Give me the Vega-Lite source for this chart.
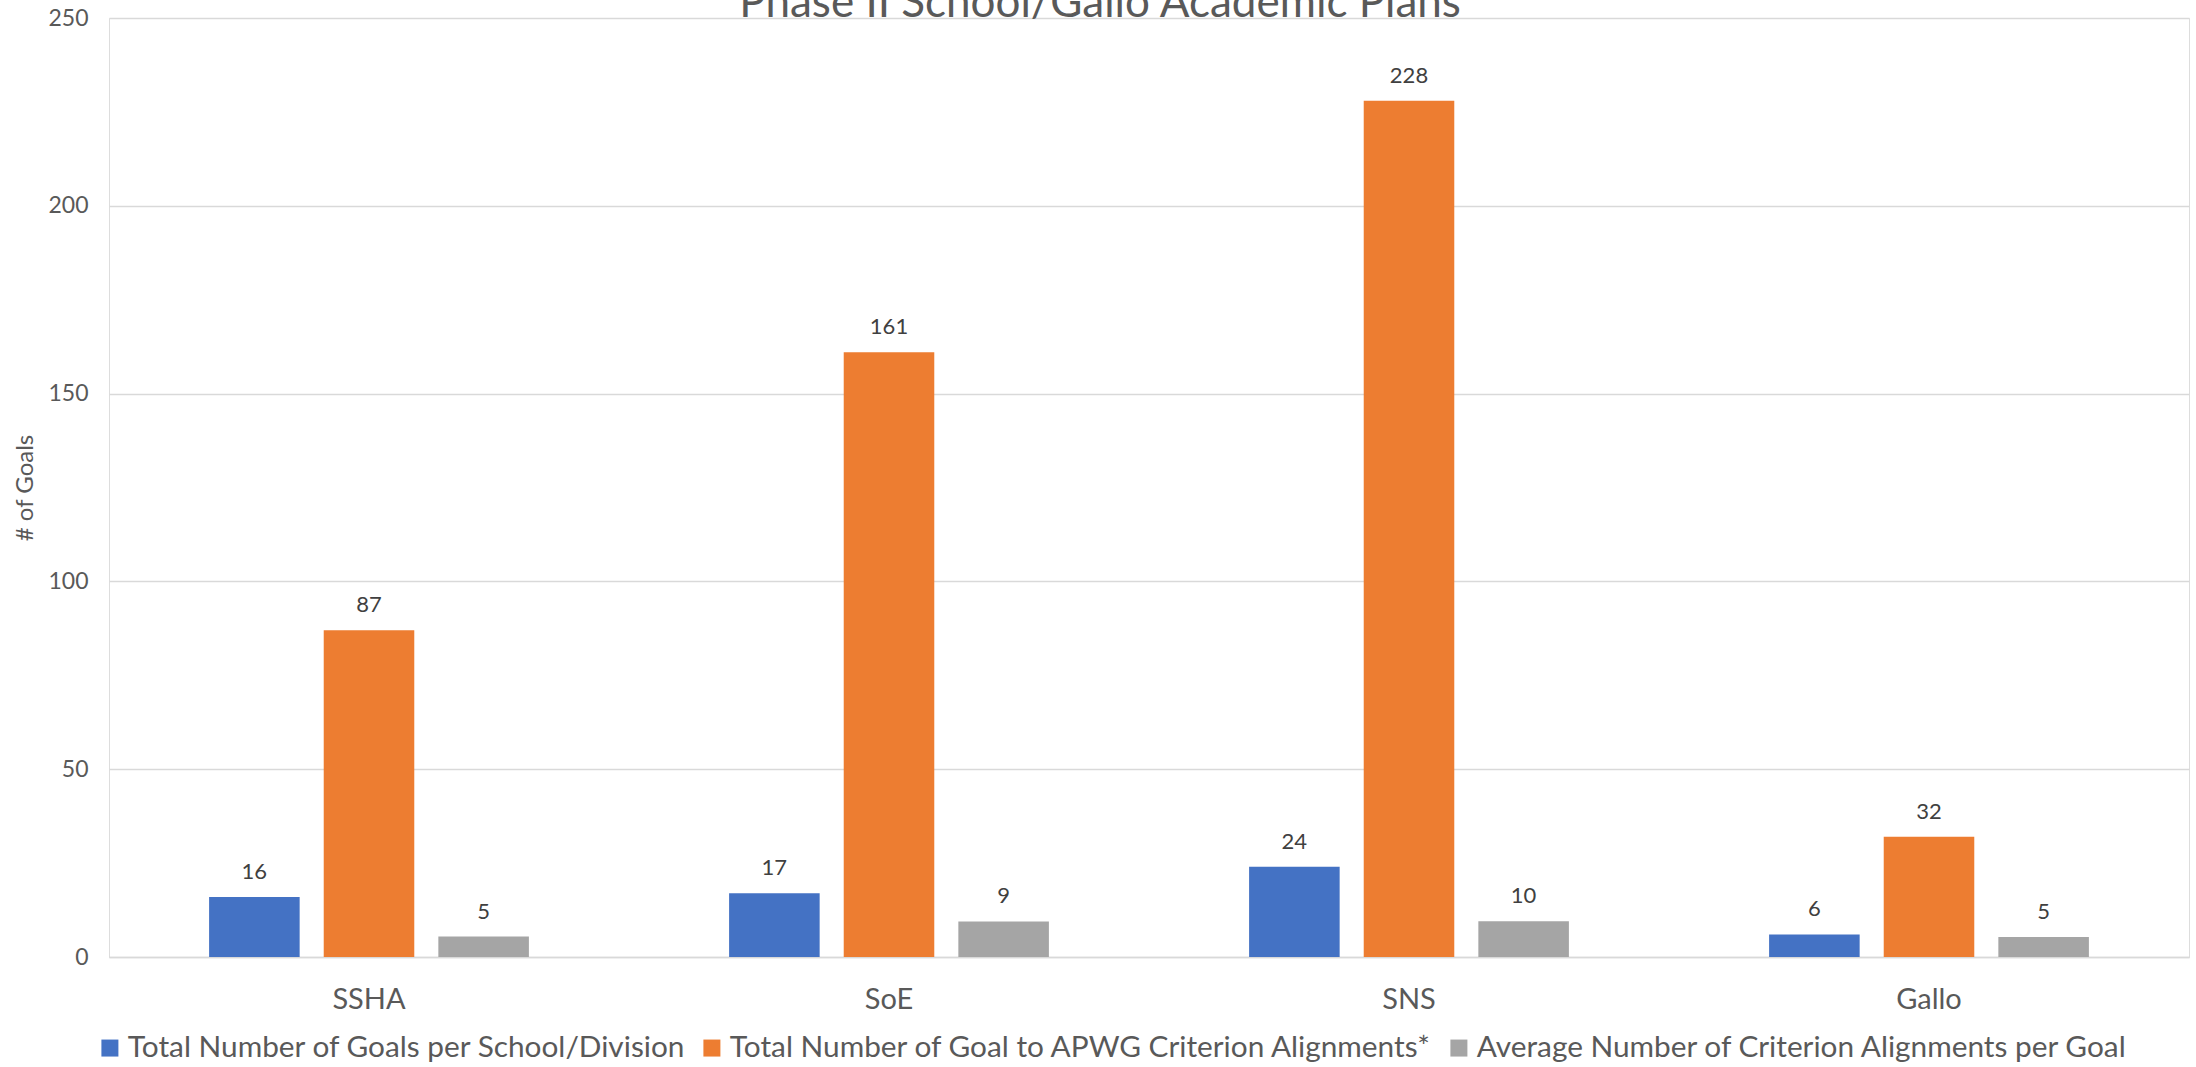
{
  "$schema": "https://vega.github.io/schema/vega-lite/v6.json",
  "autosize": {"type": "none"},
  "padding": {"left": 109, "top": 18, "right": 7, "bottom": 110},
  "width": 2080,
  "height": 939,
  "background": "white",
  "title": {
    "text": "Phase II School/Gallo Academic Plans",
    "font": "Lato",
    "fontSize": 44,
    "fontWeight": "normal",
    "color": "#595959",
    "anchor": "middle",
    "frame": "group",
    "baseline": "alphabetic",
    "offset": -29,
    "dx": -49,
    "dy": 25
  },
  "data": {
    "values": [
      {"school": "SSHA", "series": "Total Number of Goals per School/Division", "value": 16},
      {"school": "SSHA", "series": "Total Number of Goal to APWG Criterion Alignments*", "value": 87},
      {"school": "SSHA", "series": "Average Number of Criterion Alignments per Goal", "value": 5.4375},
      {"school": "SoE", "series": "Total Number of Goals per School/Division", "value": 17},
      {"school": "SoE", "series": "Total Number of Goal to APWG Criterion Alignments*", "value": 161},
      {"school": "SoE", "series": "Average Number of Criterion Alignments per Goal", "value": 9.4706},
      {"school": "SNS", "series": "Total Number of Goals per School/Division", "value": 24},
      {"school": "SNS", "series": "Total Number of Goal to APWG Criterion Alignments*", "value": 228},
      {"school": "SNS", "series": "Average Number of Criterion Alignments per Goal", "value": 9.5},
      {"school": "Gallo", "series": "Total Number of Goals per School/Division", "value": 6},
      {"school": "Gallo", "series": "Total Number of Goal to APWG Criterion Alignments*", "value": 32},
      {"school": "Gallo", "series": "Average Number of Criterion Alignments per Goal", "value": 5.3333}
    ]
  },
  "encoding": {
    "x": {
      "field": "school",
      "type": "nominal",
      "sort": ["SSHA", "SoE", "SNS", "Gallo"],
      "scale": {"paddingInner": 0.385, "paddingOuter": 0.1925},
      "axis": {
        "title": null,
        "labelAngle": 0,
        "labelFont": "Lato",
        "labelFontSize": 29,
        "labelColor": "#595959",
        "labelPadding": 28,
        "ticks": false,
        "tickSize": 0,
        "domainColor": "#d9d9d9",
        "domainWidth": 1.5,
        "grid": false
      }
    },
    "xOffset": {
      "field": "series",
      "type": "nominal",
      "sort": [
        "Total Number of Goals per School/Division",
        "Total Number of Goal to APWG Criterion Alignments*",
        "Average Number of Criterion Alignments per Goal"
      ],
      "scale": {"paddingInner": 0.21, "paddingOuter": 0}
    },
    "y": {
      "field": "value",
      "type": "quantitative",
      "scale": {"domain": [0, 250], "nice": false},
      "axis": {
        "title": "# of Goals",
        "titleFont": "Lato",
        "titleFontSize": 24,
        "titleFontWeight": "normal",
        "titleColor": "#595959",
        "titlePadding": 10,
        "values": [0, 50, 100, 150, 200, 250],
        "labelFont": "Lato",
        "labelFontSize": 23,
        "labelColor": "#595959",
        "labelPadding": 21,
        "ticks": false,
        "tickSize": 0,
        "domain": false,
        "grid": true,
        "gridColor": "#d9d9d9",
        "gridWidth": 1.5
      }
    }
  },
  "layer": [
    {
      "mark": {"type": "bar"},
      "encoding": {
        "color": {
          "field": "series",
          "type": "nominal",
          "scale": {
            "domain": [
              "Total Number of Goals per School/Division",
              "Total Number of Goal to APWG Criterion Alignments*",
              "Average Number of Criterion Alignments per Goal"
            ],
            "range": ["#4472C4", "#ED7D31", "#A5A5A5"]
          },
          "legend": {
            "title": null,
            "orient": "none",
            "legendX": -14,
            "legendY": 1015,
            "direction": "horizontal",
            "symbolType": "square",
            "symbolSize": 289,
            "symbolStrokeWidth": 0,
            "labelFont": "Lato",
            "labelFontSize": 29.8,
            "labelColor": "#595959",
            "labelLimit": 0,
            "labelOffset": 3,
            "columnPadding": 10
          }
        }
      }
    },
    {
      "mark": {
        "type": "text",
        "baseline": "alphabetic",
        "dy": -18,
        "font": "Lato",
        "fontSize": 22,
        "color": "#404040"
      },
      "encoding": {
        "text": {"field": "value", "type": "quantitative", "format": ".0f"}
      }
    }
  ]
}
